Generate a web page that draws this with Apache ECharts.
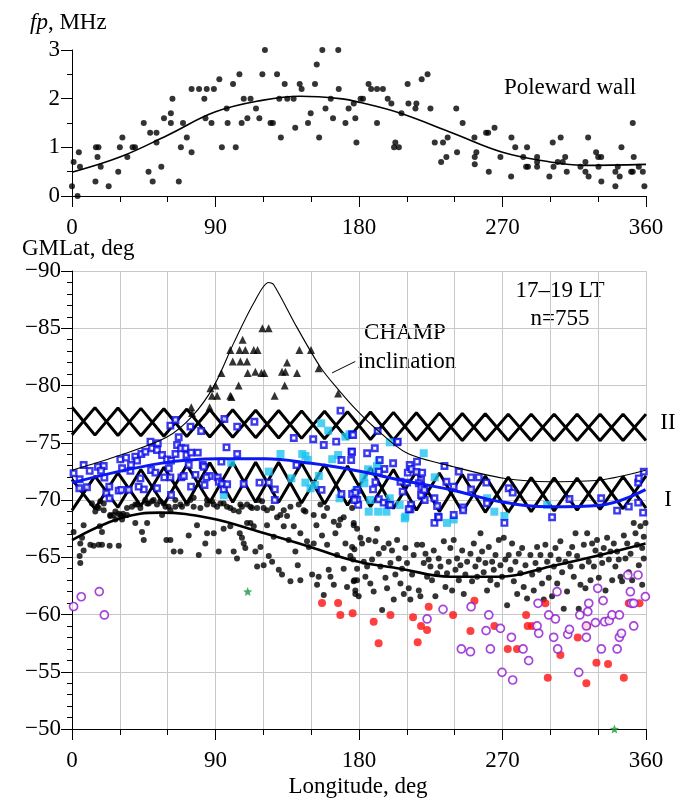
<!DOCTYPE html>
<html>
<head>
<meta charset="utf-8">
<script src="https://cdn.jsdelivr.net/npm/echarts@6/dist/echarts.min.js"></script>
<style>
  html, body { margin: 0; padding: 0; background: #fff; }
  #chart { width: 679px; height: 801px; }
</style>
</head>
<body>
<div id="chart"></div>
<script>
// ---------- data ----------
// upper panel: plasma frequency of the poleward wall, [longitude, fp MHz]
const fpPoints = [
  [0,0.2],[1,0.7],[3.5,0],[4.3,0.9],[5,0.6],[14.7,0.3],[15,1.0],[16.6,1.0],[16,0.8],[18,0.6],[23,0.2],[29,0.5],
  [30,1.0],[31.6,1.2],[34.7,0.8],[38,1.0],[39.5,1.0],[45,1.5],[48,0.5],[49,1.3],[50.6,0.3],[53,1.3],[53,1.1],
  [56,0.6],[57.7,1.6],[62,1.7],[62,1.5],[63,2.0],[67,0.3],[68.3,1.0],[69.6,1.5],[72,1.2],[75,0.9],[75,2.2],
  [79.7,2.2],[83,2.0],[83.7,1.6],[84.5,2.2],[87.5,1.5],[89,2.2],[92.4,2.4],[94,1.0],[97,1.8],[97.6,1.5],
  [101,2.3],[102.7,1.0],[105,2.5],[106.4,1.5],[107.7,2.0],[110,1.6],[112,2.0],[115.4,1.8],[117.5,1.6],
  [119.4,2.5],[121,3.0],[124.5,1.5],[126,1.5],[128.6,2.5],[130,2.0],[131,1.2],[133.4,2.3],[135,2.0],[139,2.0],
  [140,1.4],[142.8,2.3],[144,2.2],[148,1.5],[149.7,1.7],[152.4,2.3],[153.5,2.7],[155,1.2],[157,3.0],[159,1.8],
  [162.3,2.0],[163.7,1.6],[167,3.0],[167.3,2.2],[171.5,1.5],[173.5,1.8],[176.7,1.9],[177.7,1.6],[178.4,1.1],
  [181,2.0],[182.5,2.0],[186,2.3],[187.6,2.2],[191.3,2.2],[195,2.2],[191.3,1.5],[198,2.0],[200.3,1.9],
  [202.8,1.1],[202,1.0],[205,1.0],[206.6,1.7],[210.5,2.3],[211,1.9],[215.4,1.8],[216,1.9],[219.3,2.4],
  [223,2.5],[224.8,1.8],[227.5,1.1],[231.5,0.7],[232.7,1.1],[234.8,0.8],[235.6,1.2],[241,1.8],[241.5,0.9],
  [245,1.5],[252.4,1.2],[252.6,0.8],[252.6,0.65],[253.6,0.9],[259.7,1.3],[261,1.3],[261.4,0.5],[265,1.4],
  [268.7,0.8],[275.4,0.4],[275.6,1.2],[278,1.0],[283,0.8],[284.8,0.6],[286,0.6],[285.4,1.0],[291.7,0.8],
  [291.7,0.7],[291.7,0.6],[299.4,0.4],[301.5,1.1],[302,0.6],[304.6,0.7],[306.5,1.2],[307.8,0.7],[309.3,0.8],
  [310.3,0.5],[318.9,0.6],[322,0.5],[322,0.7],[323.7,1.2],[324,0.4],[328.7,0.9],[330,0.8],[331.9,0.8],
  [330.2,0.6],[332,0.3],[340.8,0.5],[340.8,0.2],[342.3,0.6],[343.5,0.4],[344.6,1.0],[350.7,0.5],[351.7,0.5],
  [351.7,1.5],[352.3,0.8],[355.5,0.6],[358,0.5],[359,0.2]
];
const fpFit = [[0,0.49],[30,0.8],[60,1.25],[90,1.73],[120,1.97],[143,2.05],[168,2.0],[181,1.92],[206,1.7],
  [239,1.29],[270,0.9],[300,0.7],[320,0.63],[360,0.65]];

// lower panel: geomagnetic latitude, [longitude, GMLat deg]
const blackDots = [
  [12.5,-69.7],[14.6,-69.0],[16.7,-69.3],[19.9,-69.7],[24.0,-68.7],[27.2,-69.0],[30.3,-68.7],[32.0,-68.8],
  [34.5,-69.3],[37.6,-69.4],[40.8,-69.6],[47.1,-69.7],[50.2,-69.9],[53.3,-69.6],[57.5,-69.7],[60.6,-69.4],
  [64.8,-69.4],[69.0,-69.4],[72.1,-69.7],[76.3,-69.4],[80.5,-69.3],[84.7,-69.6],[87.8,-69.9],[91.0,-69.4],
  [95.1,-69.7],[99.3,-69.3],[104.6,-69.0],[106.6,-69.4],[109.8,-69.6],[111.9,-69.4],[116.1,-69.3],[119.2,-69.9],
  [122.3,-69.1],[128.6,-68.5],[132.8,-69.1],[137.0,-69.4],[142.2,-69.6],[146.4,-69.0],[151.6,-68.7],[155.8,-69.6],
  [160.0,-69.3],[164.2,-68.1],[168.3,-68.3],[170.4,-68.5],[175.7,-69.3],[176.7,-67.8],[178.8,-67.5],
  [1.0,-67.2],[6.3,-66.7],[7.3,-67.8],[5.2,-66.2],[4.8,-65.1],[5.2,-64.5],[7.3,-65.6],[11.5,-66.1],[13.6,-66.0],
  [16.7,-66.1],[18.8,-66.1],[23.6,-66.0],[29.3,-66.0],[17.4,-67.7],[18.8,-67.2],[27.2,-68.3],[31.4,-68.3],
  [39.7,-68.0],[43.9,-67.2],[45.0,-66.5],[47.1,-68.0],[56.5,-68.7],[59.2,-66.5],[61.7,-66.5],[63.8,-65.5],
  [68.0,-65.5],[73.2,-66.9],[78.4,-67.8],[79.5,-65.2],[83.6,-66.2],[84.7,-67.1],[88.9,-67.1],[92.0,-65.5],
  [95.1,-67.5],[99.3,-67.7],[101.4,-65.5],[103.5,-64.9],[105.2,-67.1],[106.6,-66.7],[107.7,-66.2],[108.7,-65.8],
  [109.8,-68.0],[111.9,-68.0],[114.0,-67.7],[115.0,-65.5],[116.1,-64.2],[118.2,-65.9],[120.2,-64.3],[122.3,-67.8],
  [123.4,-65.1],[126.5,-66.8],[125.5,-64.6],[129.7,-63.9],[132.8,-67.7],[131.7,-63.5],[135.9,-66.5],[137.0,-62.9],
  [139.1,-67.7],[140.1,-65.5],[141.6,-64.3],[143.2,-67.1],[143.2,-63.0],[147.4,-66.4],[148.5,-65.9],[151.6,-66.2],
  [150.6,-63.5],[153.3,-67.8],[153.7,-62.6],[154.7,-63.3],[156.8,-66.9],[157.9,-61.7],[160.0,-66.1],[161.0,-63.9],
  [162.1,-63.3],[164.2,-62.6],[165.2,-67.1],[166.2,-65.2],[167.3,-67.8],[170.4,-64.0],[171.5,-66.2],[172.5,-62.4],
  [174.6,-65.1],[175.7,-65.9],[176.7,-62.9],[177.7,-61.8],[179.8,-61.6],[178.8,-63.0],
  [15.7,-69.4],[17.8,-69.9],[19.9,-69.1],[24.0,-68.6],[26.1,-68.7],[29.3,-68.8],[31.4,-68.6],[34.5,-68.7],
  [39.7,-69.6],[42.9,-69.3],[46.0,-70.0],[48.1,-69.7],[51.2,-70.0],[55.4,-69.9],[58.6,-69.4],[61.7,-69.1],
  [64.8,-70.0],[68.0,-69.6],[74.2,-70.0],[76.3,-70.2],[84.7,-70.0],[88.9,-69.6],[93.1,-69.7],[97.2,-69.4],
  [101.4,-69.1],[105.6,-69.6],[112.9,-69.3],[117.1,-70.0],[120.2,-69.3],[125.5,-69.3],[130.7,-68.7],[134.9,-68.6],
  [145.3,-69.1],[157.9,-68.6],
  [176.7,-68.0],[177.1,-65.7],[176.3,-64.8],[177.1,-63.0],[177.7,-62.1],[178.8,-64.0],[180.9,-66.7],[181.9,-66.2],
  [183.0,-64.6],[184.0,-63.3],[185.1,-64.2],[186.1,-66.5],[187.1,-62.7],[188.2,-64.8],[189.2,-62.0],[190.3,-66.4],
  [191.3,-67.5],[192.4,-65.3],[193.4,-64.2],[194.5,-60.4],[195.5,-65.8],[196.6,-63.2],[197.6,-62.3],[198.6,-66.2],
  [199.7,-64.5],[200.7,-65.6],[201.8,-61.3],[202.8,-63.5],[203.9,-66.5],[204.9,-64.9],[206.0,-62.7],[207.0,-64.0],
  [208.1,-61.8],[209.1,-65.8],[210.1,-64.5],[211.2,-62.3],[212.2,-61.3],[213.3,-63.5],[214.3,-65.2],[216.4,-66.1],
  [217.5,-62.1],[218.5,-61.6],[219.6,-66.1],[220.6,-64.5],[221.7,-65.3],[222.7,-63.3],[223.7,-64.8],[224.8,-64.2],
  [225.8,-63.0],[226.9,-65.6],[227.9,-61.6],[229.0,-63.6],[230.0,-64.9],[231.1,-64.2],[233.2,-66.4],[234.2,-62.4],
  [235.2,-63.6],[236.3,-64.6],[237.3,-65.8],[238.4,-62.1],[239.4,-66.5],[240.5,-63.9],[241.5,-64.9],[242.6,-63.0],
  [243.6,-64.3],[244.7,-65.6],[245.7,-61.8],[246.7,-63.5],[247.8,-64.6],[249.9,-65.3],[250.9,-62.9],[252.0,-66.2],
  [253.0,-64.2],[254.1,-63.3],[255.1,-64.8],[256.2,-67.1],[257.2,-65.5],[258.2,-63.7],[259.3,-64.5],[260.3,-62.1],
  [261.4,-65.9],[262.4,-63.0],[263.5,-64.6],[264.5,-63.9],[265.6,-65.2],[266.6,-62.6],[267.7,-66.5],[268.7,-64.3],
  [269.7,-63.3],[270.8,-66.7],[271.8,-64.8],[272.9,-60.8],[273.9,-65.2],[275.0,-63.9],[276.0,-66.2],[277.1,-62.9],
  [278.1,-64.6],[279.2,-61.8],[280.2,-65.3],[281.2,-63.6],[282.3,-65.8],[283.3,-62.4],[284.4,-64.3],[285.4,-61.4],
  [287.5,-65.2],[288.6,-63.5],[289.6,-62.1],[290.7,-64.5],[291.7,-65.9],[292.8,-63.9],[293.8,-65.2],[294.8,-62.7],
  [295.9,-61.3],[296.9,-66.1],[298.0,-64.6],[299.0,-63.2],[300.1,-65.2],[301.1,-61.6],[302.2,-64.2],[303.2,-65.8],
  [304.3,-62.7],[305.3,-64.8],[306.3,-66.4],[307.4,-63.7],[308.4,-60.5],[309.5,-64.6],[310.5,-62.0],[311.6,-65.3],
  [312.6,-64.2],[313.7,-65.9],[314.7,-63.3],[315.8,-67.1],[316.8,-65.1],[317.8,-60.5],[318.9,-62.6],[319.9,-64.2],
  [321.0,-66.1],[322.0,-62.3],[323.1,-67.1],[324.1,-64.6],[325.2,-63.0],[326.2,-66.2],[327.3,-64.2],[328.3,-65.6],
  [329.3,-66.5],[330.4,-63.2],[331.4,-65.2],[332.5,-64.5],[333.5,-65.8],[334.6,-62.1],[335.6,-66.7],[336.7,-64.8],
  [337.7,-65.5],[338.8,-63.0],[339.8,-66.2],[340.8,-64.2],[341.9,-65.5],[342.9,-64.8],[344.0,-63.3],[345.0,-62.9],
  [346.1,-66.9],[347.1,-64.9],[348.2,-66.2],[349.2,-63.7],[350.3,-65.3],[351.3,-63.0],[352.3,-68.0],[353.4,-67.1],
  [354.4,-66.1],[355.5,-64.3],[356.5,-67.7],[357.6,-65.8],[358.6,-66.8],[359.7,-68.0],[358.6,-64.9],[357.6,-62.6]
];
const triangles = [
  [107,-84.0],[99.3,-83.1],[105.1,-83.1],[108.7,-83.1],[100.8,-82.1],[105.6,-82.1],[109.8,-82.1],[114,-83.1],
  [116.4,-83.1],[119.4,-85.0],[123.3,-85.0],[93.7,-81.1],[104.5,-80.0],[110.2,-81.1],[115,-81.2],[118.8,-81.1],
  [120.6,-81.1],[90,-80.0],[86.8,-79.75],[87.8,-79.1],[91,-79.1],[99.3,-79.1],[127.1,-79.1],[131.7,-81.2],
  [133.8,-81.2],[133.4,-80.0],[134.9,-82.0],[141.1,-81.1],[142.6,-83.1],[149.9,-83.1],[154.7,-81.5],
  [166.9,-79.3],[74.8,-78.1],[86.3,-78.1],[75.3,-77.6],[100,-79.0]
];
const blueSquares = [
  [1.0,-72.33],[4.8,-71.81],[4.6,-71.02],[9.4,-71.11],[7.3,-73.06],[11.1,-72.54],[16.3,-72.91],[19.9,-72.97],
  [18.2,-72.56],[20.3,-71.95],[23.4,-71.17],[21.5,-70.59],[23.6,-70.15],[29.3,-70.82],[31.0,-70.88],[35.6,-70.88],
  [30.3,-73.55],[33.9,-73.70],[39.7,-73.79],[40.8,-73.44],[43.5,-74.02],[46.0,-74.22],[49.2,-75.10],[50.2,-74.52],
  [53.8,-74.95],[53.3,-74.37],[56.5,-73.93],[59.6,-73.55],[60.7,-72.77],[62.1,-73.44],[64.9,-74.02],[65.9,-74.81],
  [66.9,-75.48],[68.4,-74.52],[71.1,-74.52],[71.8,-73.93],[74.7,-74.14],[78.9,-74.14],[49.6,-72.62],[52.3,-72.39],
  [37.0,-73.06],[31.4,-72.77],[36.6,-72.54],[42.9,-71.89],[45.0,-70.93],[41.8,-71.17],[53.3,-71.02],[61.7,-71.98],
  [57.9,-71.98],[62.1,-70.44],[68.6,-71.98],[70.1,-72.10],[74.7,-71.17],[77.4,-72.19],[82.0,-73.06],[82.6,-72.91],
  [73.2,-73.06],[83.1,-71.31],[86.4,-72.10],[84.3,-71.98],[91.4,-71.98],[92.1,-71.60],[94.1,-71.40],[95.2,-70.93],
  [97.3,-71.37],[107.7,-71.40],[117.6,-71.52],[123.4,-71.52],[127.2,-70.93],[127.2,-70.00],[96.9,-74.60],
  [103.6,-74.02],[93.7,-73.35],[61.7,-76.50],[64.9,-76.99],[74.3,-76.41],[81.0,-76.03],[95.6,-77.08],[103.6,-76.41],
  [114.4,-76.84],[139.1,-75.42],[140.8,-73.06],[151.3,-75.30],[157.9,-74.81],[165.7,-75.10],[168.4,-77.81],
  [175.3,-74.22],[175.1,-73.50],[169.0,-73.50],[175.7,-75.74],[156.5,-70.88],[169.0,-70.53],[175.7,-70.53],
  [178.9,-70.00],[179.5,-69.57],[178.9,-70.88],
  [176.3,-75.68],[175.6,-74.22],[185.1,-74.08],[189.9,-74.52],[191.7,-76.03],[193.0,-73.50],[195.9,-72.71],
  [192.4,-72.48],[190.3,-71.55],[188.8,-70.93],[177.7,-70.64],[177.1,-70.00],[192.4,-70.06],[195.5,-69.77],
  [198.6,-69.57],[201.4,-73.21],[203.9,-75.04],[211.8,-73.06],[216.4,-73.35],[210.6,-72.39],[212.9,-72.71],
  [216.0,-72.45],[219.6,-72.39],[218.9,-71.75],[217.5,-71.46],[207.4,-70.73],[206.0,-71.60],[210.2,-71.52],
  [219.1,-71.11],[219.6,-70.35],[221.2,-70.00],[218.9,-70.44],[221.0,-70.88],[227.3,-70.15],[229.0,-69.48],
  [212.7,-69.57],[212.2,-69.19],[211.2,-69.19],[199.7,-69.57],[233.6,-72.97],[234.8,-71.60],[239.4,-71.17],
  [242.6,-72.48],[250.3,-71.98],[255.1,-71.98],[259.9,-71.52],[250.3,-70.93],[260.3,-69.71],[273.9,-71.02],
  [276.4,-70.64],[301.1,-68.49],[312.0,-70.09],[331.9,-70.15],[341.9,-69.07],[349.2,-69.42],[355.1,-69.77],
  [355.1,-71.52],[355.5,-71.89],[358.6,-72.48],[358.2,-68.90],[245.3,-69.36],[239.4,-68.69],[229.6,-68.55],
  [227.3,-68.0],[230.0,-68.5],[271.2,-68.0],[245.3,-69.1],[204.3,-75.1]
];
const cyanSquares = [
  [156.3,-76.70],[160.7,-76.06],[171.5,-75.53],[174.1,-75.74],[130.8,-74.02],[144.4,-74.02],[147.9,-73.50],
  [146.4,-73.85],[163.2,-73.56],[166.9,-73.93],[123.4,-72.48],[137.6,-71.89],[146.4,-71.52],[149.6,-71.02],
  [152.3,-71.31],[154.8,-72.10],[167.8,-70.15],[99.8,-73.26],[95.2,-70.41],
  [199.3,-75.04],[220.6,-74.08],[192.4,-73.44],[191.3,-72.97],[190.9,-72.48],[185.7,-72.68],[183.0,-71.98],
  [183.4,-71.46],[178.4,-70.88],[187.1,-70.00],[199.3,-70.15],[205.5,-69.57],[227.5,-71.98],[260.3,-70.15],
  [264.9,-68.98],[271.2,-68.61],[298.0,-69.57],[209.1,-68.55],[186.1,-68.98],[192.0,-68.98],[197.2,-68.98],
  [208.7,-68.4],[235.2,-68.0],[239.4,-68.3]
];
const redDots = [
  [156.8,-61.0],[166.9,-61.0],[168.3,-59.96],[176.0,-60.10],[189.2,-59.37],[192.3,-57.48],[199.7,-59.96],
  [213.9,-59.75],[216.8,-57.57],[218.9,-59.0],[222.7,-58.65],[223.7,-60.68],[239.0,-59.96],[249.9,-58.56],
  [252.4,-61.21],[264.9,-59.0],[273.3,-56.99],[279.1,-56.99],[284.8,-59.96],[285.8,-59.0],[288.5,-59.0],
  [296.9,-60.98],[298.4,-54.48],[306.3,-56.46],[317.2,-58.0],[323.1,-59.0],[322.6,-53.99],[328.9,-55.79],
  [336.2,-55.68],[346.1,-54.48],[349.2,-60.98],[355.9,-60.98]
];
const purpleRings = [
  [1.0,-60.7],[5.8,-61.55],[17.1,-62.0],[20.3,-59.96],
  [222.7,-59.61],[232.7,-60.45],[244.2,-56.99],[249.9,-56.75],[250.3,-60.68],[259.7,-58.59],[261.4,-59.96],
  [262.4,-56.99],[268.7,-58.79],[269.7,-54.95],[275.6,-58.01],[276.4,-54.28],[282.9,-56.99],[286.4,-55.97],
  [291.7,-59.0],[292.7,-58.36],[292.3,-60.98],[299.0,-59.96],[302.1,-58.01],[303.2,-59.61],[304.2,-61.99],
  [304.6,-56.99],[310.9,-58.27],[312.0,-58.7],[317.8,-54.95],[318.5,-59.96],[322.6,-58.01],[322.6,-59.0],
  [323.5,-60.25],[324.1,-60.98],[328.3,-59.29],[329.7,-62.29],[332.0,-56.99],[333.1,-61.21],[334.1,-59.37],
  [336.9,-59.46],[338.7,-59.96],[341.9,-56.99],[343.3,-58.01],[343.3,-59.96],[344.6,-58.36],[348.6,-63.45],
  [350.2,-61.99],[350.9,-60.98],[352.3,-60.98],[352.3,-59.0],[355.0,-63.45],[359.6,-61.56]
];
const greenStars = [[110.2,-62.0],[340.2,-50.0]];

// fitted curves
const champCurve = [[0,-72.6],[30,-73.9],[59.6,-75.5],[75.3,-77.3],[88.8,-79.9],[101.4,-83.7],[114,-87.2],
  [123.3,-89.0],[126.5,-88.8],[141,-85.1],[155.8,-81.6],[167.3,-79.6],[178.8,-77.8],[189.2,-76.4],[210,-74.1],
  [239.4,-72.9],[270.8,-71.9],[300,-71.6],[331.4,-71.75],[359.7,-72.6]];
const champPointer = [[163.1,-81.1],[177.7,-82.1]];
const blueFit = [[0,-71.5],[55.4,-73.2],[93,-73.6],[121,-73.6],[150,-73.2],[177,-72.6],[206,-71.75],
  [237.4,-70.9],[268.8,-69.85],[300,-69.4],[331.4,-69.55],[359.7,-70.9]];
const blackFit = [[0,-66.5],[30.3,-68.4],[55.4,-68.9],[86.8,-68.4],[118,-67.2],[149.5,-65.9],[177,-64.7],
  [206,-64.0],[237.4,-63.3],[268.8,-63.3],[300,-64.2],[331.4,-65.2],[359.7,-66.2]];

// hatched zones I and II: edges at control longitudes
const bandLon = [0, 45, 90, 135, 180, 225, 270, 315, 360];
const zone2Top = [-78.1, -78.0, -77.9, -77.8, -77.7, -77.6, -77.5, -77.5, -77.5];
const zone2Bot = [-75.7, -75.6, -75.5, -75.4, -75.3, -75.2, -75.2, -75.2, -75.2];
const zone1Top = [-71.8, -72.7, -73.3, -73.3, -72.9, -72.4, -72.0, -71.9, -72.1];
const zone1Bot = [-69.1, -69.5, -69.8, -69.8, -69.5, -69.0, -68.9, -69.1, -69.3];
const hatchStep = 14.4;

// ---------- helpers ----------
function edgeAt(vals, x) {
    for (let i = 0; i < bandLon.length - 1; i++) {
        if (x <= bandLon[i + 1]) {
            const t = (x - bandLon[i]) / (bandLon[i + 1] - bandLon[i]);
            return vals[i] + t * (vals[i + 1] - vals[i]);
        }
    }
    return vals[vals.length - 1];
}
// two crossing zigzags give the row of X marks
function hatch(top, bot) {
    const a = [], b = [];
    for (let i = 0; i * hatchStep <= 360 + hatchStep; i++) {
        const x = i * hatchStep;
        const t = edgeAt(top, Math.min(x, 360)), d = edgeAt(bot, Math.min(x, 360));
        a.push([x, i % 2 ? d : t]);
        b.push([x, i % 2 ? t : d]);
    }
    return [a, b];
}

const FONT = 'Liberation Serif';
const FS = 23;
const chart = echarts.init(document.getElementById('chart'));

function xAxisCfg(gridIndex, grid) {
    return {
        type: 'value', gridIndex: gridIndex, min: 0, max: 360, interval: 90,
        axisLine: { lineStyle: { color: '#000', width: 1 } },
        axisTick: { length: 11, lineStyle: { color: '#000' } },
        minorTick: { show: true, splitNumber: 3, length: 6, lineStyle: { color: '#000' } },
        axisLabel: { color: '#000', fontFamily: FONT, fontSize: FS, margin: gridIndex ? 20 : 20 },
        splitLine: { show: grid, lineStyle: { color: '#c8c8c8', width: 1 } },
        minorSplitLine: { show: grid, lineStyle: { color: '#c8c8c8', width: 1 } }
    };
}

const hatch2 = hatch(zone2Top, zone2Bot);
const hatch1 = hatch(zone1Top, zone1Bot);

function hatchSeries(d) {
    return {
        type: 'line', xAxisIndex: 1, yAxisIndex: 1, data: d, showSymbol: false, symbol: 'none',
        lineStyle: { color: '#000', width: 3 }, silent: true, z: 1
    };
}
function curve(d, xi, color, width, smooth) {
    return {
        type: 'line', xAxisIndex: xi, yAxisIndex: xi, data: d, symbol: 'none', smooth: smooth,
        lineStyle: { color: color, width: width }, silent: true, z: 5
    };
}
function label(text, x, y) {
    return {
        type: 'text', x: x, y: y,
        style: { text: text, font: FS + 'px "' + FONT + '"', fill: '#000', textAlign: 'center', textVerticalAlign: 'middle' }
    };
}

const option = {
    animation: false,
    grid: [
        { left: 72, right: 33, top: 50, height: 146 },
        { left: 72, right: 33, top: 271, height: 458 }
    ],
    xAxis: [xAxisCfg(0, false), xAxisCfg(1, true)],
    yAxis: [
        {
            type: 'value', gridIndex: 0, min: 0, max: 3, interval: 1,
            axisLine: { show: true, lineStyle: { color: '#000' } },
            axisTick: { show: true, length: 11, lineStyle: { color: '#000' } },
            minorTick: { show: true, splitNumber: 2, length: 5, lineStyle: { color: '#000' } },
            axisLabel: { color: '#000', fontFamily: FONT, fontSize: FS, margin: 12 },
            splitLine: { show: false }
        },
        {
            type: 'value', gridIndex: 1, min: -90, max: -50, interval: 5, inverse: true,
            axisLine: { show: true, lineStyle: { color: '#000' } },
            axisTick: { show: true, length: 11, lineStyle: { color: '#000' } },
            minorTick: { show: true, splitNumber: 5, length: 5, lineStyle: { color: '#000' } },
            axisLabel: {
                color: '#000', fontFamily: FONT, fontSize: FS, margin: 11,
                formatter: v => (v < 0 ? '\u2212' + (-v) : '' + v)
            },
            splitLine: { show: true, lineStyle: { color: '#c8c8c8', width: 1 } }
        }
    ],
    series: [
        // upper panel
        {
            type: 'scatter', xAxisIndex: 0, yAxisIndex: 0, data: fpPoints, symbolSize: 6,
            itemStyle: { color: '#000' }, z: 3
        },
        curve(fpFit, 0, '#000', 1.6, 0.4),
        // lower panel
        hatchSeries(hatch2[0]), hatchSeries(hatch2[1]),
        hatchSeries(hatch1[0]), hatchSeries(hatch1[1]),
        {
            type: 'scatter', xAxisIndex: 1, yAxisIndex: 1, data: blackDots, symbolSize: 6,
            itemStyle: { color: '#000' }, z: 2
        },
        {
            type: 'scatter', xAxisIndex: 1, yAxisIndex: 1, data: triangles, symbol: 'triangle', symbolSize: 8,
            itemStyle: { color: '#000' }, z: 2
        },
        {
            type: 'scatter', xAxisIndex: 1, yAxisIndex: 1, data: cyanSquares, symbol: 'rect', symbolSize: 8,
            itemStyle: { color: '#1ec4f0' }, z: 3
        },
        {
            type: 'scatter', xAxisIndex: 1, yAxisIndex: 1, data: blueSquares, symbol: 'rect', symbolSize: 5.5,
            itemStyle: { color: '#fff', borderColor: '#0a0ae8', borderWidth: 2.4 }, z: 3
        },
        {
            type: 'scatter', xAxisIndex: 1, yAxisIndex: 1, data: redDots, symbolSize: 8,
            itemStyle: { color: '#ff1010' }, z: 3
        },
        {
            type: 'scatter', xAxisIndex: 1, yAxisIndex: 1, data: purpleRings, symbolSize: 8,
            itemStyle: { color: '#fff', borderColor: '#8e18d0', borderWidth: 1.7 }, z: 3
        },
        {
            type: 'scatter', xAxisIndex: 1, yAxisIndex: 1, data: greenStars,
            symbol: 'path://M0,-10 L2.6,-3.6 L9.5,-3.1 L4.2,1.4 L5.9,8.1 L0,4.4 L-5.9,8.1 L-4.2,1.4 L-9.5,-3.1 L-2.6,-3.6 Z',
            symbolSize: 9, itemStyle: { color: '#169a3c' }, z: 3, clip: false
        },
        curve(champCurve, 1, '#000', 1.1, 0.3),
        curve(champPointer, 1, '#000', 1, false),
        curve(blueFit, 1, '#0a18f5', 3, 0.4),
        curve(blackFit, 1, '#000', 2.6, 0.4)
    ],
    graphic: [
        {
            type: 'text', left: 30, top: 11,
            style: {
                text: '{i|fp}, MHz', fill: '#000',
                rich: {
                    i: { fontFamily: FONT, fontSize: FS, fontStyle: 'italic', fill: '#000' }
                },
                font: FS + 'px "' + FONT + '"'
            }
        },
        {
            type: 'text', left: 22, top: 237,
            style: { text: 'GMLat, deg', font: FS + 'px "' + FONT + '"', fill: '#000' }
        },
        label('Poleward wall', 570, 88),
        label('17\u201319 LT', 560, 291),
        label('n=755', 560, 319),
        label('CHAMP', 405, 333),
        label('inclination', 407, 362),
        label('II', 668, 423),
        label('I', 668, 500),
        label('Longitude, deg', 358, 787)
    ]
};

chart.setOption(option);
</script>
</body>
</html>
